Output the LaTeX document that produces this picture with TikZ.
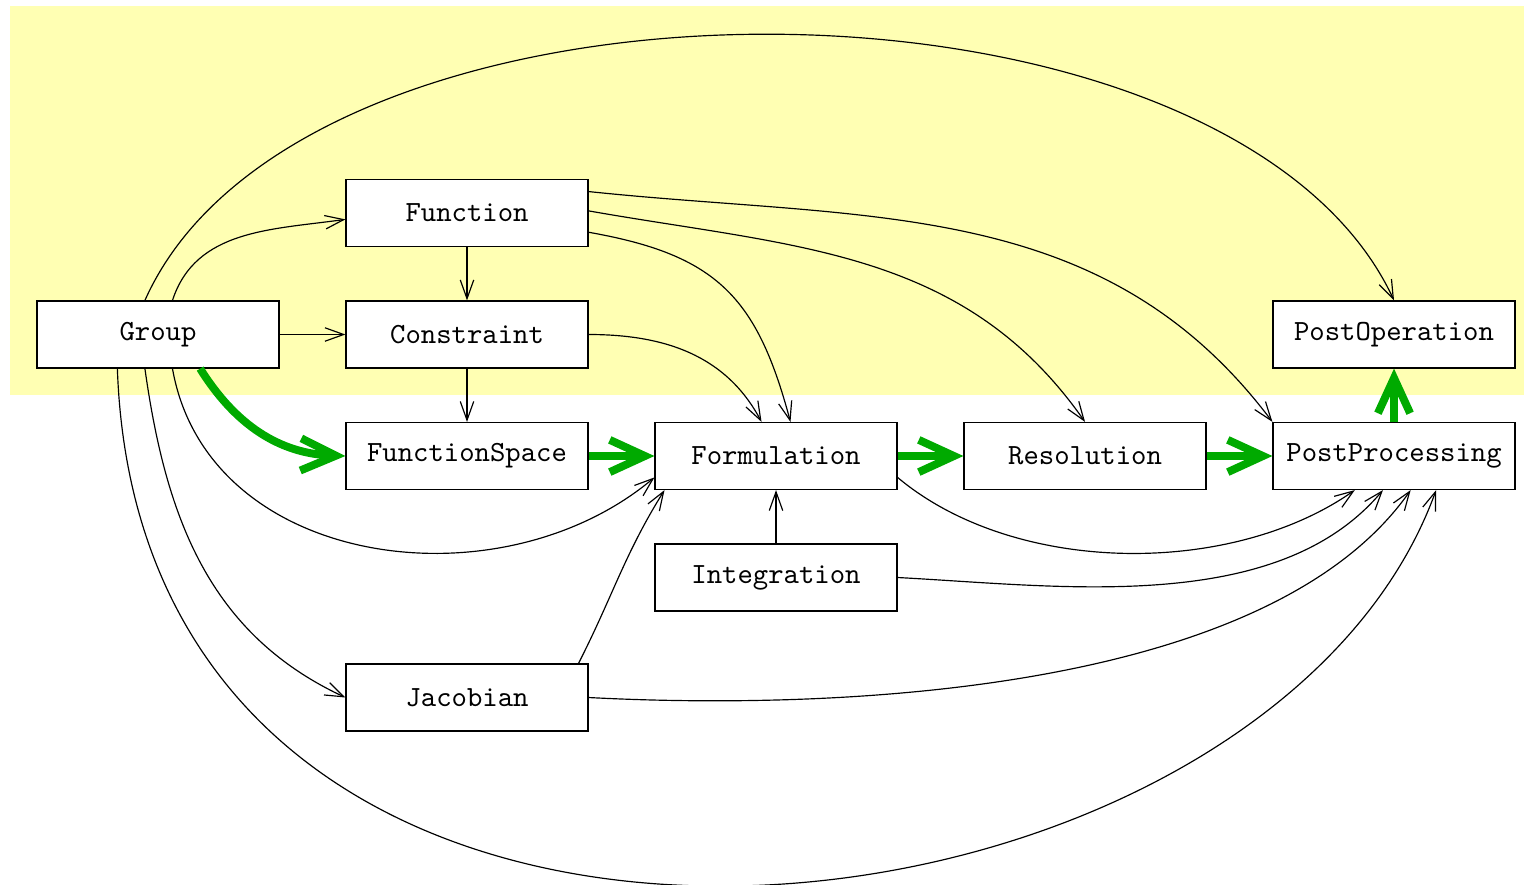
\documentclass[tikz,border=0pt]{standalone}
\usetikzlibrary{arrows.meta,positioning}
\definecolor{backdrop}{HTML}{FFFFB3}
\definecolor{flowgreen}{HTML}{00AA00}

\begin{document}
\begin{tikzpicture}[>={Straight Barb[length=6.4pt,width=4.6pt]},
  box/.style={draw, fill=white, minimum width=2.904cm, minimum height=0.804cm, font=\ttfamily},
  main/.style={-{Straight Barb[length=12pt,width=11pt]}, line width=2.7pt, flowgreen}]
  \useasboundingbox (-1.896,-6.594) rectangle (16.392,4.014);
  \fill[backdrop] (-1.776,-0.726) rectangle (16.392,3.942);

  \node[box] (group) at (0,0) {Group};
  \node[box, right=0.79cm of group] (constr) {Constraint};
  \node[box, above=0.64cm of constr] (func) {Function};
  \node[box, below=0.64cm of constr] (fspace) {FunctionSpace};
  \node[box, below=2.08cm of fspace] (jac) {Jacobian};
  \node[box, right=0.79cm of fspace] (form) {Formulation};
  \node[box, below=0.64cm of form] (integ) {Integration};
  \node[box, right=0.79cm of form] (resol) {Resolution};
  \node[box, right=0.79cm of resol] (postpro) {PostProcessing};
  \node[box, above=0.64cm of postpro] (postop) {PostOperation};

  \draw[->] (group.111) to[out=66, in=115, looseness=0.8] (postop.north);
  \draw[->] (group.67) to[out=72, in=188] (func.183);
  \draw[->] (group) -- (constr);
  \draw[->] (func) -- (constr);
  \draw[->] (constr) -- (fspace);
  \draw[->] (func.10) to[out=-6, in=127] (postpro.north west);
  \draw[->] (func.1) to[out=-10, in=125] (resol.north);
  \draw[->] (func.-9) to[out=-10, in=105, looseness=1.2] (form.67);
  \draw[->] (constr.east) to[out=0, in=118] (form.113);
  \draw[->] (group.-67) to[out=-80, in=220, looseness=1.05] (form.190);
  \draw[->] (group.249) to[out=-82, in=155] (jac.west);
  \draw[->] (group.220) to[out=-88, in=-110, out looseness=1.41, in looseness=1.0] (postpro.-39);
  \draw[->] (jac.17) to[out=63, in=-122] (form.197);
  \draw[->] (jac.east) to[out=-3, in=-125, looseness=0.75] (postpro.-64);
  \draw[->] (integ) -- (form);
  \draw[->] (integ.east) to[out=-3, in=-130, looseness=0.85] (postpro.252);
  \draw[->] (form.-10) to[out=-40, in=-145, looseness=0.85] (postpro.221);

  % main chain
  \draw[main] (group.-39) to[out=-58, in=178] (fspace.west);
  \draw[main] (fspace) -- (form);
  \draw[main] (form) -- (resol);
  \draw[main] (resol) -- (postpro);
  \draw[main] (postpro) -- (postop);
\end{tikzpicture}
\end{document}
